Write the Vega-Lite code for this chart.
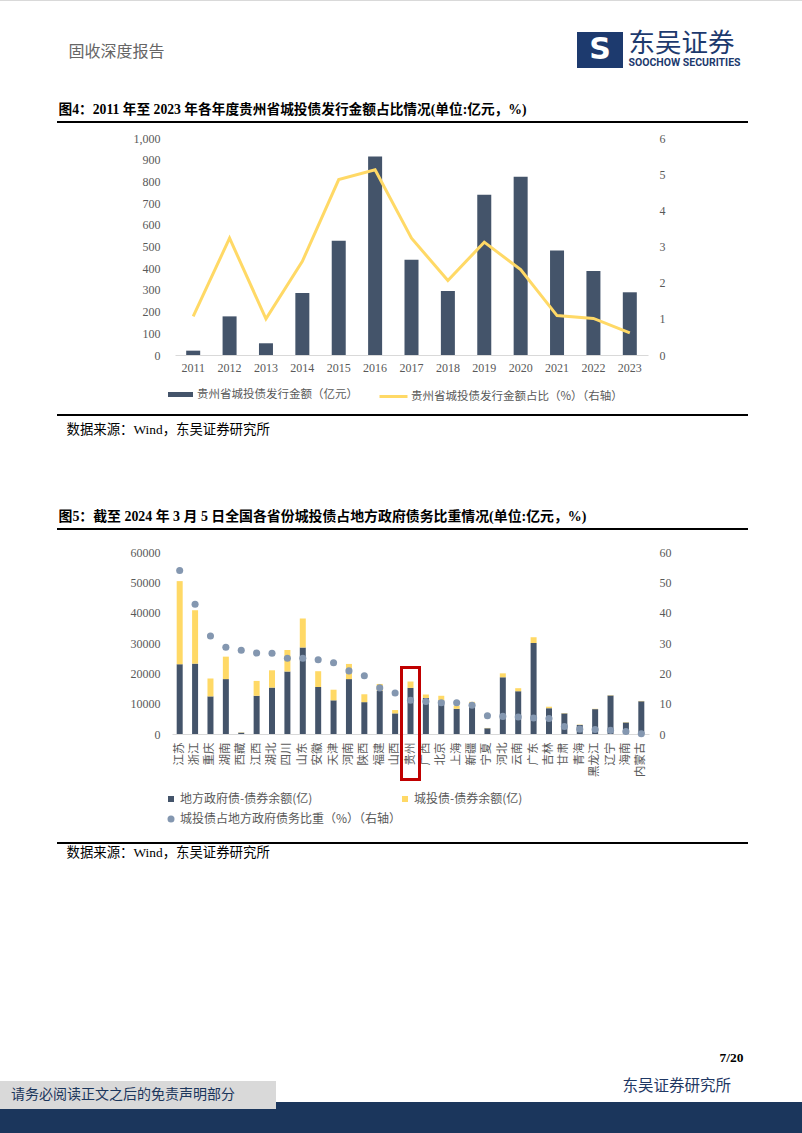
{
  "$schema": "https://vega.github.io/schema/vega-lite/v6.json",
  "padding": 0,
  "background": "white",
  "bounds": "flush",
  "spacing": 0,
  "resolve": {"scale": {"fill": "independent", "stroke": "independent", "shape": "independent"}, "legend": {"fill": "independent", "stroke": "independent", "shape": "independent"}},
  "config": {
    "view": {"stroke": null},
    "axis": {"labelFont": "Liberation Serif", "labelColor": "#595959", "labelFontSize": 12, "ticks": false, "grid": false, "domain": false, "labelOverlap": false},
    "legend": {"labelFont": "Noto Sans CJK SC", "labelColor": "#595959", "padding": 0, "labelLimit": 500}
  },
  "vconcat": [
    {"width": 802, "height": 1, "view": {"fill": "#d9d9d9"}, "data": {"values": []}, "mark": "point"},
    {"width": 802, "height": 31, "data": {"values": []}, "mark": "point"},
    {"hconcat": [
      {"width": 68, "height": 40, "data": {"values": []}, "mark": "point"},
      {"width": 1, "height": 40, "data": {"values": [{}]}, "mark": {"type": "text", "text": "固收深度报告", "align": "left", "baseline": "middle", "font": "Noto Sans CJK SC", "fontSize": 16, "color": "#666666"}},
      {"width": 508, "height": 40, "data": {"values": []}, "mark": "point"},
      {"width": 46, "height": 36, "view": {"fill": "#1d3a6e"}, "data": {"values": [{}]}, "mark": {"type": "text", "text": "S", "align": "center", "baseline": "middle", "font": "DejaVu Sans", "fontWeight": "bold", "fontSize": 30, "color": "#ffffff"}},
      {"width": 5, "height": 40, "data": {"values": []}, "mark": "point"},
      {"vconcat": [
        {"width": 1, "height": 24, "data": {"values": [{}]}, "mark": {"type": "text", "text": "东吴证券", "align": "left", "baseline": "middle", "font": "Noto Sans CJK SC", "fontSize": 26.5, "color": "#1d3a6e"}},
        {"width": 1, "height": 14, "data": {"values": [{}]}, "mark": {"type": "text", "text": "SOOCHOW SECURITIES", "align": "left", "baseline": "middle", "font": "Roboto", "fontWeight": "bold", "fontSize": 10.5, "color": "#1d3a6e"}}
      ], "spacing": 0, "bounds": "flush"}
    ], "spacing": 0, "bounds": "flush"},
    {"width": 802, "height": 66, "data": {"values": []}, "mark": "point"},
    {"hconcat": [
      {"width": 58, "height": 23, "data": {"values": []}, "mark": "point"},
      {"width": 1, "height": 23, "data": {"values": [{}]}, "mark": {"type": "text", "text": "图4：2011 年至 2023 年各年度贵州省城投债发行金额占比情况(单位:亿元，%)", "align": "left", "baseline": "middle", "font": "Liberation Serif, Noto Sans CJK SC", "fontWeight": "bold", "fontSize": 13.7, "color": "#000000"}}
    ], "spacing": 0, "bounds": "flush"},
    {"width": 802, "height": 23, "data": {"values": []}, "mark": "point"},
    {"hconcat": [
      {"width": 57, "height": 2, "data": {"values": []}, "mark": "point"},
      {"width": 691, "height": 2, "view": {"fill": "#000000"}, "data": {"values": []}, "mark": "point"}
    ], "spacing": 0, "bounds": "flush"},
    {"width": 802, "height": 17, "data": {"values": []}, "mark": "point"},
    {"hconcat": [
      {"width": 175, "height": 217, "data": {"values": []}, "mark": "point"},
      {
        "width": 473, "height": 217,
        "data": {"values": [
          {"year": "2011", "amount": 20, "pct": 1.07},
          {"year": "2012", "amount": 178, "pct": 3.23},
          {"year": "2013", "amount": 54, "pct": 1.0},
          {"year": "2014", "amount": 286, "pct": 2.59},
          {"year": "2015", "amount": 527, "pct": 4.85},
          {"year": "2016", "amount": 915, "pct": 5.12},
          {"year": "2017", "amount": 439, "pct": 3.23},
          {"year": "2018", "amount": 295, "pct": 2.06},
          {"year": "2019", "amount": 739, "pct": 3.12},
          {"year": "2020", "amount": 822, "pct": 2.36},
          {"year": "2021", "amount": 482, "pct": 1.09},
          {"year": "2022", "amount": 387, "pct": 1.01},
          {"year": "2023", "amount": 289, "pct": 0.61}
        ]},
        "layer": [
          {
            "mark": {"type": "bar", "size": 14},
            "encoding": {
              "x": {"field": "year", "type": "ordinal", "scale": {"paddingInner": 0, "paddingOuter": 0}, "axis": {"title": null, "labelAngle": 0, "domain": true, "domainColor": "#d9d9d9", "labelPadding": 7}},
              "y": {"field": "amount", "type": "quantitative", "scale": {"domain": [0, 1000]}, "axis": {"title": null, "values": [0, 100, 200, 300, 400, 500, 600, 700, 800, 900, 1000], "format": ",d", "labelPadding": 15}},
              "fill": {"datum": "贵州省城投债发行金额（亿元）", "scale": {"range": ["#44546a"]}, "legend": {"title": null, "orient": "none", "legendX": -7, "legendY": 244, "symbolType": "M-1,-0.2H1V0.2H-1Z", "symbolSize": 625, "symbolStrokeWidth": 0, "labelFontSize": 11.5, "labelOffset": 4}}
            }
          },
          {
            "mark": {"type": "line", "strokeWidth": 3},
            "encoding": {
              "x": {"field": "year", "type": "ordinal"},
              "y": {"field": "pct", "type": "quantitative", "scale": {"domain": [0, 6]}, "axis": {"title": null, "orient": "right", "values": [0, 1, 2, 3, 4, 5, 6], "labelPadding": 11}},
              "stroke": {"datum": "贵州省城投债发行金额占比（%）（右轴）", "scale": {"range": ["#ffd966"]}, "legend": {"title": null, "orient": "none", "legendX": 203, "legendY": 243, "symbolType": "stroke", "symbolSize": 784, "symbolStrokeWidth": 3, "labelFontSize": 11.5, "labelOffset": 2}}
            }
          }
        ],
        "resolve": {"scale": {"y": "independent"}}
      }
    ], "spacing": 0, "bounds": "flush", "resolve": {"scale": {"fill": "independent", "stroke": "independent"}, "legend": {"fill": "independent", "stroke": "independent"}}},
    {"width": 802, "height": 276, "data": {"values": []}, "mark": "point"},
    {"hconcat": [
      {"width": 57, "height": 2, "data": {"values": []}, "mark": "point"},
      {"width": 691, "height": 2, "view": {"fill": "#000000"}, "data": {"values": []}, "mark": "point"}
    ], "spacing": 0, "bounds": "flush"},
    {"width": 802, "height": 2, "data": {"values": []}, "mark": "point"},
    {"hconcat": [
      {"width": 66, "height": 28, "data": {"values": []}, "mark": "point"},
      {"width": 1, "height": 28, "data": {"values": [{}]}, "mark": {"type": "text", "text": "数据来源：Wind，东吴证券研究所", "align": "left", "baseline": "middle", "font": "Liberation Serif, Noto Sans CJK SC", "fontSize": 13.4, "color": "#000000"}}
    ], "spacing": 0, "bounds": "flush"},
    {"width": 802, "height": 89, "data": {"values": []}, "mark": "point"},
    {"hconcat": [
      {"width": 58, "height": 23, "data": {"values": []}, "mark": "point"},
      {"width": 1, "height": 23, "data": {"values": [{}]}, "mark": {"type": "text", "text": "图5：截至 2024 年 3 月 5 日全国各省份城投债占地方政府债务比重情况(单位:亿元，%)", "align": "left", "baseline": "middle", "font": "Liberation Serif, Noto Sans CJK SC", "fontWeight": "bold", "fontSize": 13.9, "color": "#000000"}}
    ], "spacing": 0, "bounds": "flush"},
    {"width": 802, "height": 23, "data": {"values": []}, "mark": "point"},
    {"hconcat": [
      {"width": 57, "height": 2, "data": {"values": []}, "mark": "point"},
      {"width": 691, "height": 2, "view": {"fill": "#000000"}, "data": {"values": []}, "mark": "point"}
    ], "spacing": 0, "bounds": "flush"},
    {"width": 802, "height": 24, "data": {"values": []}, "mark": "point"},
    {"hconcat": [
      {"width": 172, "height": 182, "data": {"values": []}, "mark": "point"},
      {
        "width": 477, "height": 182,
        "data": {"values": [
          {"p": "江苏", "local": 23000, "city": 27400, "ratio": 53.9},
          {"p": "浙江", "local": 23200, "city": 17600, "ratio": 42.8},
          {"p": "重庆", "local": 12400, "city": 5900, "ratio": 32.3},
          {"p": "湖南", "local": 18100, "city": 7400, "ratio": 28.6},
          {"p": "西藏", "local": 450, "city": 100, "ratio": 27.6},
          {"p": "江西", "local": 12600, "city": 4900, "ratio": 26.7},
          {"p": "湖北", "local": 15300, "city": 5700, "ratio": 26.6},
          {"p": "四川", "local": 20600, "city": 7100, "ratio": 25.0},
          {"p": "山东", "local": 28500, "city": 9600, "ratio": 25.0},
          {"p": "安徽", "local": 15500, "city": 5200, "ratio": 24.5},
          {"p": "天津", "local": 11100, "city": 3500, "ratio": 23.5},
          {"p": "河南", "local": 18100, "city": 5000, "ratio": 20.8},
          {"p": "陕西", "local": 10500, "city": 2600, "ratio": 19.2},
          {"p": "福建", "local": 14200, "city": 2300, "ratio": 15.2},
          {"p": "山西", "local": 6800, "city": 1100, "ratio": 13.5},
          {"p": "贵州", "local": 15200, "city": 2100, "ratio": 11.1},
          {"p": "广西", "local": 11900, "city": 1100, "ratio": 10.7},
          {"p": "北京", "local": 11100, "city": 1500, "ratio": 10.3},
          {"p": "上海", "local": 8300, "city": 1000, "ratio": 10.3},
          {"p": "新疆", "local": 10300, "city": 300, "ratio": 9.5},
          {"p": "宁夏", "local": 1900, "city": 100, "ratio": 6.0},
          {"p": "河北", "local": 18700, "city": 1300, "ratio": 5.8},
          {"p": "云南", "local": 14100, "city": 1000, "ratio": 5.6},
          {"p": "广东", "local": 30000, "city": 1900, "ratio": 5.3},
          {"p": "吉林", "local": 8500, "city": 500, "ratio": 5.1},
          {"p": "甘肃", "local": 6800, "city": 100, "ratio": 2.5},
          {"p": "青海", "local": 3000, "city": 100, "ratio": 1.6},
          {"p": "黑龙江", "local": 8200, "city": 100, "ratio": 1.5},
          {"p": "辽宁", "local": 12700, "city": 100, "ratio": 1.2},
          {"p": "海南", "local": 3800, "city": 100, "ratio": 0.8},
          {"p": "内蒙古", "local": 10800, "city": 100, "ratio": 0.1}
        ]},
        "layer": [
          {
            "layer": [
              {
                "transform": [{"fold": ["local", "city"], "as": ["type", "v"]}],
                "mark": {"type": "bar", "size": 6},
                "encoding": {
                  "x": {"field": "p", "type": "nominal", "sort": null, "scale": {"paddingInner": 0, "paddingOuter": 0}, "axis": {"title": null, "labelAngle": -90, "labelAlign": "right", "labelBaseline": "middle", "labelFont": "Noto Sans CJK SC", "labelFontSize": 11.5, "domain": true, "domainColor": "#d9d9d9", "labelPadding": 8}},
                  "y": {"field": "v", "type": "quantitative", "stack": "zero", "scale": {"domain": [0, 60000]}, "axis": {"title": null, "values": [0, 10000, 20000, 30000, 40000, 50000, 60000], "format": "d", "labelPadding": 12, "labelOverlap": false}},
                  "fill": {"field": "type", "type": "nominal", "scale": {"domain": ["local", "city"], "range": ["#44546a", "#ffd966"]}, "legend": {"title": null, "orient": "none", "legendX": -7, "legendY": 241, "direction": "horizontal", "columns": 2, "columnPadding": 86, "symbolType": "square", "symbolSize": 36, "symbolStrokeWidth": 0, "labelFontSize": 12, "labelOffset": 3, "labelExpr": "datum.label == 'local' ? '地方政府债-债券余额(亿)' : '城投债-债券余额(亿)'"}},
                  "order": {"field": "type", "sort": "descending"}
                }
              },
              {
                "mark": {"type": "bar", "size": 18, "fill": "#ffffff", "fillOpacity": 0, "stroke": "#c00000", "strokeWidth": 2.5},
                "encoding": {
                  "x": {"datum": "贵州", "axis": {"title": null, "labelAngle": -90, "labelAlign": "right", "labelBaseline": "middle", "labelFont": "Noto Sans CJK SC", "labelFontSize": 11.5, "domain": true, "domainColor": "#d9d9d9", "labelPadding": 8}},
                  "y": {"datum": 21800, "scale": {"domain": [0, 60000]}, "axis": {"title": null, "values": [0, 10000, 20000, 30000, 40000, 50000, 60000], "format": "d", "labelPadding": 12, "labelOverlap": false}},
                  "y2": {"datum": -15000}
                }
              }
            ]
          },
          {
            "mark": {"type": "point", "filled": true, "size": 50, "color": "#8497b0", "opacity": 1},
            "encoding": {
              "x": {"field": "p", "type": "nominal", "sort": null},
              "y": {"field": "ratio", "type": "quantitative", "scale": {"domain": [0, 60]}, "axis": {"title": null, "orient": "right", "values": [0, 10, 20, 30, 40, 50, 60], "labelPadding": 10, "labelOverlap": false}},
              "shape": {"datum": "城投债占地方政府债务比重（%）（右轴）", "scale": {"range": ["circle"]}, "legend": {"title": null, "orient": "none", "legendX": -7, "legendY": 261, "symbolSize": 49, "symbolFillColor": "#8497b0", "symbolStrokeColor": "#8497b0", "symbolStrokeWidth": 0, "labelFontSize": 12, "labelOffset": 3}}
            }
          }
        ],
        "resolve": {"scale": {"y": "independent"}}
      }
    ], "spacing": 0, "bounds": "flush", "resolve": {"scale": {"fill": "independent", "shape": "independent"}, "legend": {"fill": "independent", "shape": "independent"}}},
    {"width": 802, "height": 290, "data": {"values": []}, "mark": "point"},
    {"hconcat": [
      {"width": 57, "height": 2, "data": {"values": []}, "mark": "point"},
      {"width": 691, "height": 2, "view": {"fill": "#000000"}, "data": {"values": []}, "mark": "point"}
    ], "spacing": 0, "bounds": "flush"},
    {"width": 802, "height": 2, "data": {"values": []}, "mark": "point"},
    {"hconcat": [
      {"width": 66, "height": 18, "data": {"values": []}, "mark": "point"},
      {"width": 1, "height": 18, "data": {"values": [{}]}, "mark": {"type": "text", "text": "数据来源：Wind，东吴证券研究所", "align": "left", "baseline": "middle", "font": "Liberation Serif, Noto Sans CJK SC", "fontSize": 13.4, "color": "#000000"}}
    ], "spacing": 0, "bounds": "flush"},
    {"width": 802, "height": 201, "data": {"values": []}, "mark": "point"},
    {"hconcat": [
      {"width": 743, "height": 26, "data": {"values": []}, "mark": "point"},
      {"width": 1, "height": 26, "data": {"values": [{}]}, "mark": {"type": "text", "text": "7/20", "align": "right", "baseline": "middle", "font": "Liberation Serif", "fontWeight": "bold", "fontSize": 13.5, "color": "#000000"}}
    ], "spacing": 0, "bounds": "flush"},
    {"width": 802, "height": 29, "data": {"values": []}, "mark": "point"},
    {"hconcat": [
      {"width": 622, "height": 10, "data": {"values": []}, "mark": "point"},
      {"width": 1, "height": 10, "data": {"values": [{}]}, "mark": {"type": "text", "text": "东吴证券研究所", "align": "left", "baseline": "top", "font": "Noto Sans CJK SC", "fontSize": 15.5, "color": "#1f3864"}}
    ], "spacing": 0, "bounds": "flush"},
    {"width": 802, "height": 7, "data": {"values": []}, "mark": "point"},
    {"width": 276, "height": 7, "view": {"fill": "#d9d9d9"}, "data": {"values": []}, "mark": "point"},
    {"hconcat": [
      {"width": 276, "height": 14, "view": {"fill": "#d9d9d9"}, "data": {"values": []}, "mark": "point"}
    ], "spacing": 0, "bounds": "flush"},
    {"width": 22, "height": 14, "data": {"values": [{}]}, "mark": {"type": "text", "text": "请务必阅读正文之后的免责声明部分", "align": "left", "baseline": "middle", "font": "Noto Sans CJK SC", "fontSize": 14, "color": "#1b365c"}},
    {"hconcat": [
      {"width": 276, "height": 7, "view": {"fill": "#d9d9d9"}, "data": {"values": []}, "mark": "point"},
      {"width": 526, "height": 7, "view": {"fill": "#1b365c"}, "data": {"values": []}, "mark": "point"}
    ], "spacing": 0, "bounds": "flush"},
    {"width": 802, "height": 7, "data": {"values": []}, "mark": "point"},
    {"width": 802, "height": 24, "view": {"fill": "#1b365c"}, "data": {"values": []}, "mark": "point"}
  ]
}
